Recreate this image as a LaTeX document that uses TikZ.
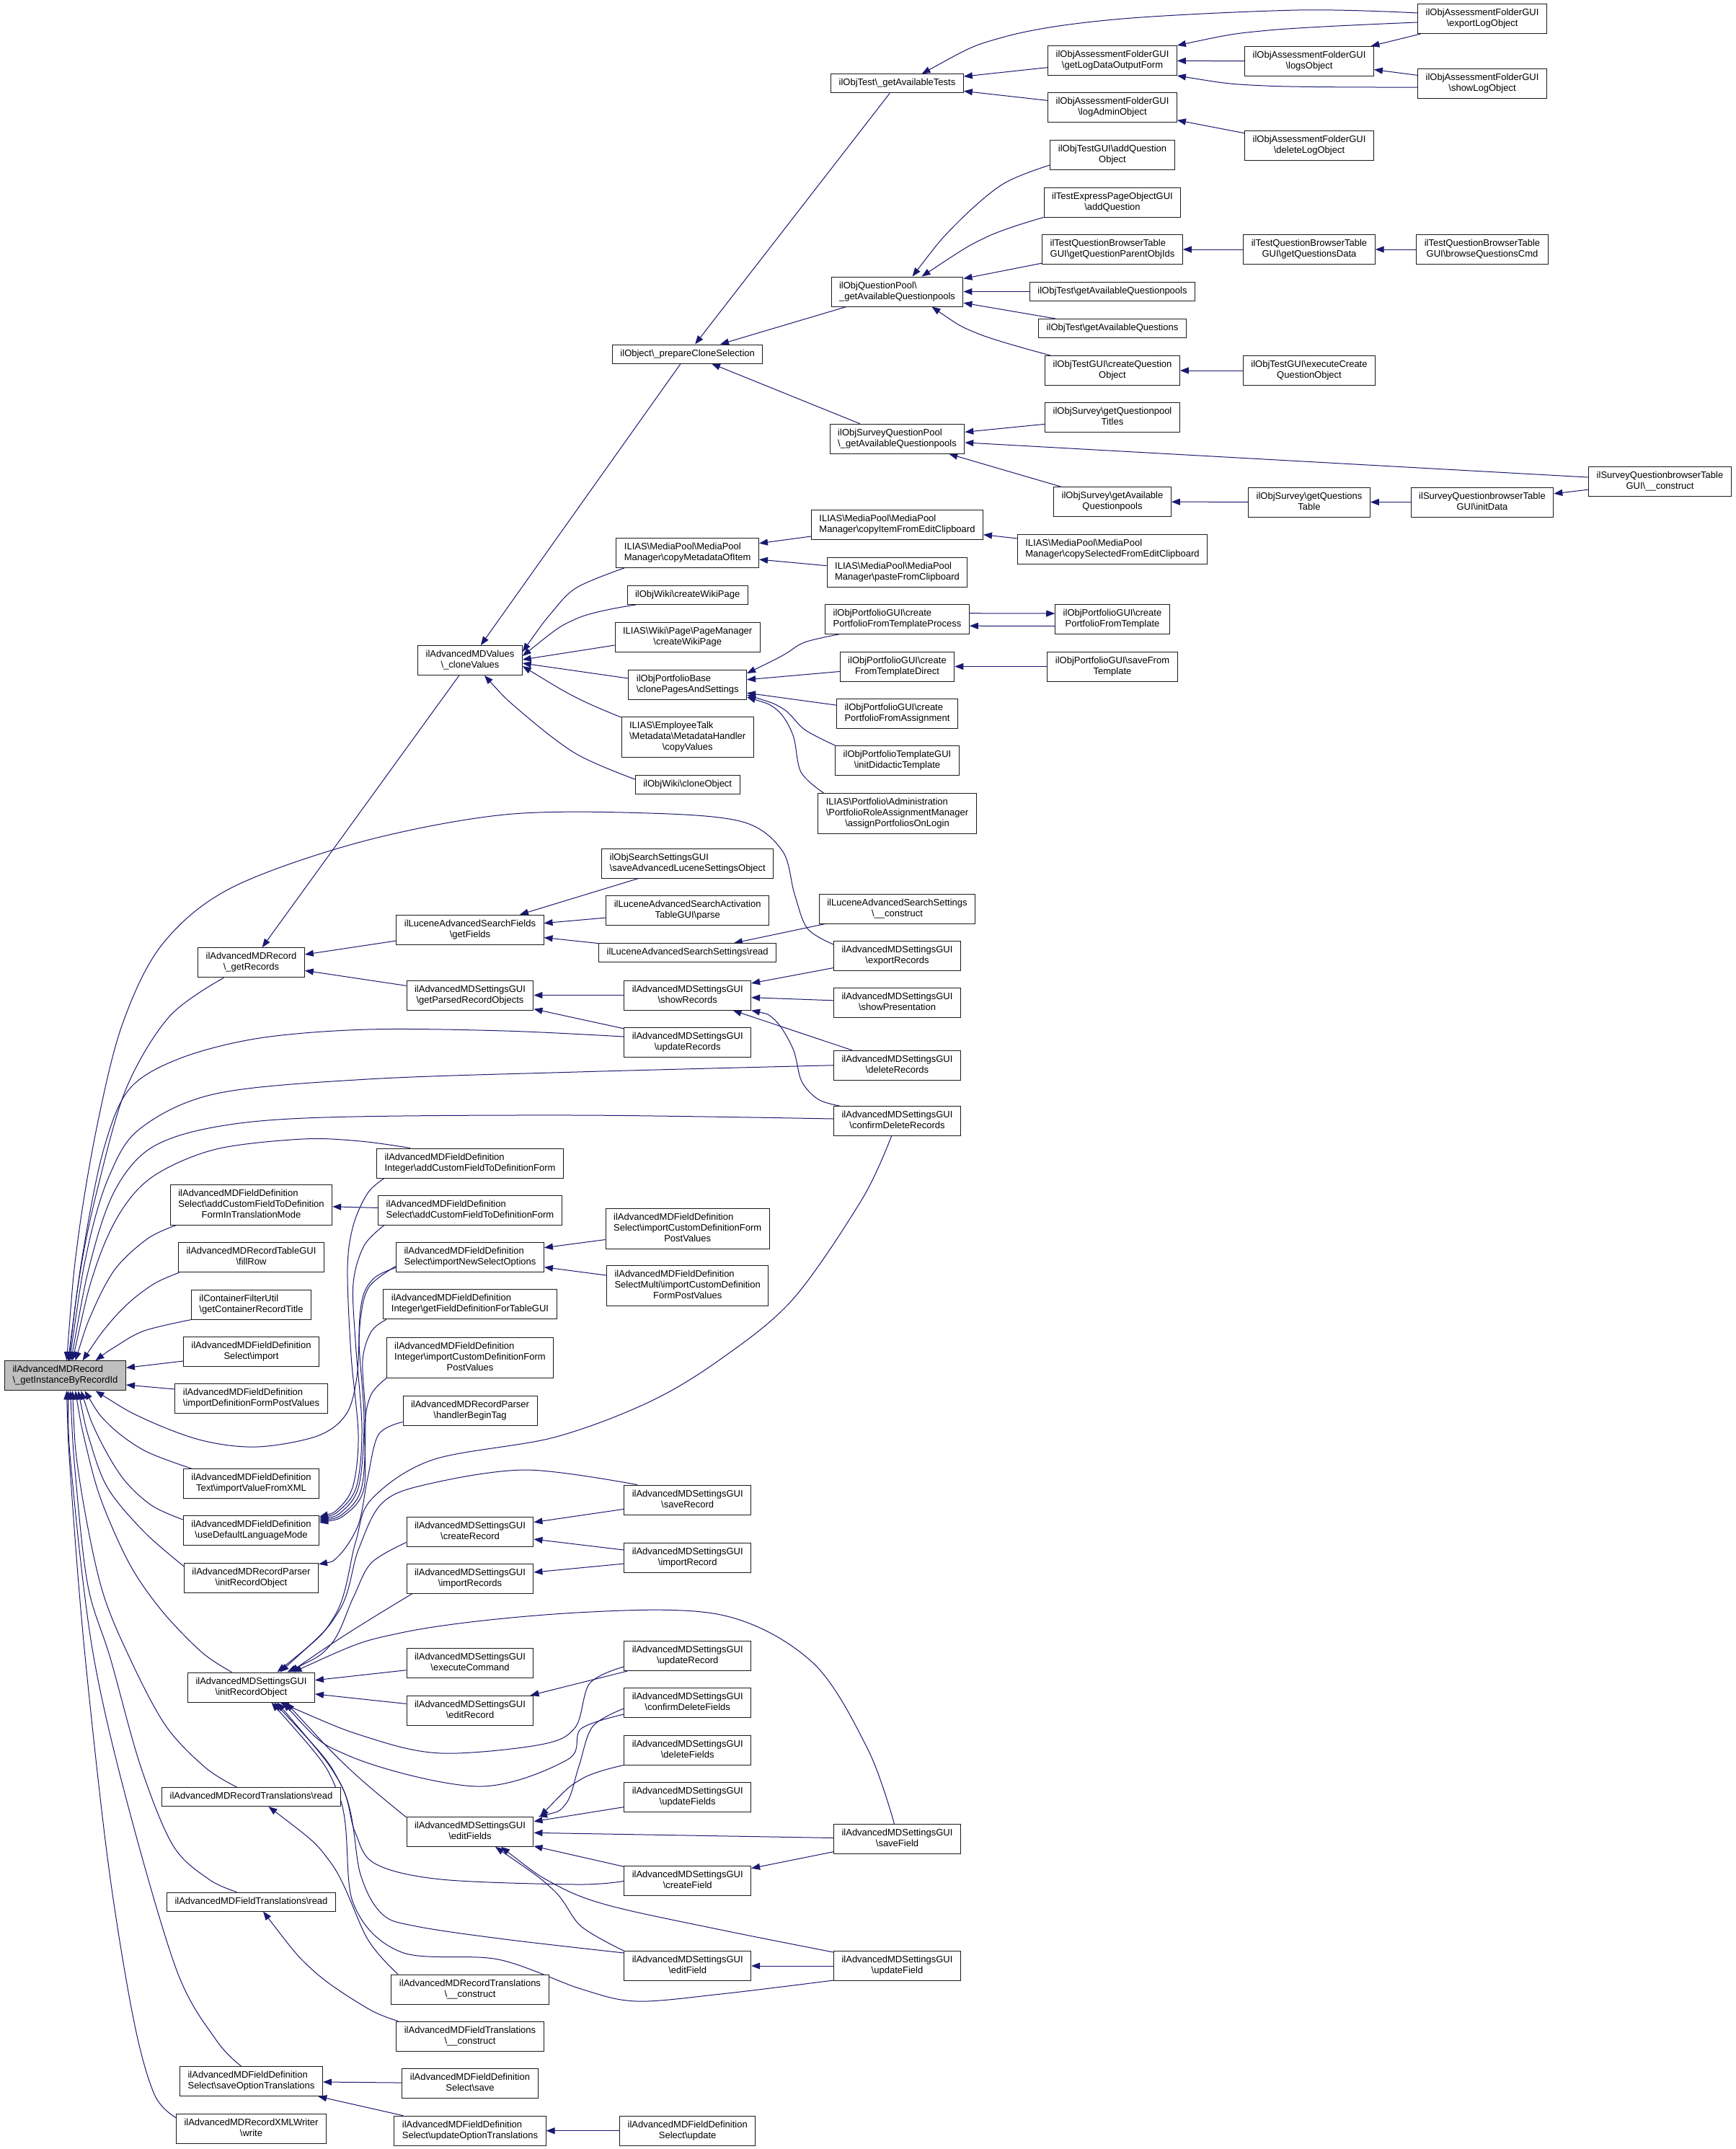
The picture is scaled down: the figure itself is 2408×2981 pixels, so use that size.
\documentclass[tikz,border=0pt]{standalone}
\usepackage{fontspec}
\setmainfont{Liberation Sans}
\usetikzlibrary{arrows.meta}
\pgfdeclarelayer{bg}
\pgfsetlayers{bg,main}
\definecolor{edgec}{HTML}{191970}
\definecolor{rootfill}{HTML}{BFBFBF}
\definecolor{boxline}{HTML}{1A1A1A}
\newcommand{\bsl}{\textbackslash}
\newcommand{\usc}{\_}
\newcommand{\lblA}[1]{\begin{tabular}{@{}c@{}}#1\end{tabular}}
\newcommand{\lblB}[2]{\begin{tabular}{@{}l@{}}#1\\\multicolumn{1}{@{}c@{}}{#2}\end{tabular}}
\newcommand{\lblC}[3]{\begin{tabular}{@{}l@{}}#1\\#2\\\multicolumn{1}{@{}c@{}}{#3}\end{tabular}}
\begin{document}
\begin{tikzpicture}[x=1pt,y=-1pt,
  box/.style={draw=boxline, line width=1pt, fill=white, inner xsep=11pt, inner ysep=5.5pt, font=\fontsize{13}{15}\selectfont, anchor=center},
  rootbox/.style={box, fill=rootfill},
  edge/.style={draw=edgec, line width=1pt, line join=round, {Triangle[length=12pt,width=9pt]}-},
  sm/.style={smooth, tension=0.55}]
\useasboundingbox (0,0) rectangle (2408,2981);
% ---------- nodes ----------
\node[rootbox] (root) at (90.5,1908.3) {\lblB{ilAdvancedMDRecord}{\bsl\usc getInstanceByRecordId}};
% column 1
\node[box] (gRec) at (348.5,1335.2) {\lblB{ilAdvancedMDRecord}{\bsl\usc getRecords}};
\node[box] (trans) at (348.5,1671) {\lblC{ilAdvancedMDFieldDefinition}{Select\bsl addCustomFieldToDefinition}{FormInTranslationMode}};
\node[box] (fillRow) at (348.5,1744.3) {\lblB{ilAdvancedMDRecordTableGUI}{\bsl fillRow}};
\node[box] (contTitle) at (348.5,1809.5) {\lblB{ilContainerFilterUtil}{\bsl getContainerRecordTitle}};
\node[box] (selImport) at (348.5,1875) {\lblB{ilAdvancedMDFieldDefinition}{Select\bsl import}};
\node[box] (impDef) at (348.5,1940.4) {\lblB{ilAdvancedMDFieldDefinition}{\bsl importDefinitionFormPostValues}};
\node[box] (impXML) at (348.5,2058) {\lblB{ilAdvancedMDFieldDefinition}{Text\bsl importValueFromXML}};
\node[box] (useDef) at (348.5,2123) {\lblB{ilAdvancedMDFieldDefinition}{\bsl useDefaultLanguageMode}};
\node[box] (rpInit) at (348.5,2188.7) {\lblB{ilAdvancedMDRecordParser}{\bsl initRecordObject}};
\node[box] (sInit) at (348.5,2340.5) {\lblB{ilAdvancedMDSettingsGUI}{\bsl initRecordObject}};
\node[box] (rtRead) at (348.5,2492.5) {\lblA{ilAdvancedMDRecordTranslations\bsl read}};
\node[box] (ftRead) at (348.5,2638) {\lblA{ilAdvancedMDFieldTranslations\bsl read}};
\node[box] (saveOpt) at (348.5,2887) {\lblB{ilAdvancedMDFieldDefinition}{Select\bsl saveOptionTranslations}};
\node[box] (xmlWrite) at (348.5,2952.5) {\lblB{ilAdvancedMDRecordXMLWriter}{\bsl write}};
% column 2
\node[box] (cloneVal) at (652,916) {\lblB{ilAdvancedMDValues}{\bsl\usc cloneValues}};
\node[box] (getFields) at (652,1289.7) {\lblB{ilLuceneAdvancedSearchFields}{\bsl getFields}};
\node[box] (parsedRec) at (652,1380.5) {\lblB{ilAdvancedMDSettingsGUI}{\bsl getParsedRecordObjects}};
\node[box] (intAdd) at (652,1613.5) {\lblB{ilAdvancedMDFieldDefinition}{Integer\bsl addCustomFieldToDefinitionForm}};
\node[box] (selAdd) at (652,1678.6) {\lblB{ilAdvancedMDFieldDefinition}{Select\bsl addCustomFieldToDefinitionForm}};
\node[box] (newSel) at (652,1744.3) {\lblB{ilAdvancedMDFieldDefinition}{Select\bsl importNewSelectOptions}};
\node[box] (tableGUI) at (652,1809.3) {\lblB{ilAdvancedMDFieldDefinition}{Integer\bsl getFieldDefinitionForTableGUI}};
\node[box] (intImp) at (652,1883.2) {\lblC{ilAdvancedMDFieldDefinition}{Integer\bsl importCustomDefinitionForm}{PostValues}};
\node[box] (beginTag) at (652,1956.5) {\lblB{ilAdvancedMDRecordParser}{\bsl handlerBeginTag}};
\node[box] (createRec) at (652,2124.5) {\lblB{ilAdvancedMDSettingsGUI}{\bsl createRecord}};
\node[box] (impRecs) at (652,2189.5) {\lblB{ilAdvancedMDSettingsGUI}{\bsl importRecords}};
\node[box] (execCmd) at (652,2307) {\lblB{ilAdvancedMDSettingsGUI}{\bsl executeCommand}};
\node[box] (editRec) at (652,2372.8) {\lblB{ilAdvancedMDSettingsGUI}{\bsl editRecord}};
\node[box] (editFlds) at (652,2540.8) {\lblB{ilAdvancedMDSettingsGUI}{\bsl editFields}};
\node[box] (rtCons) at (652,2759.5) {\lblB{ilAdvancedMDRecordTranslations}{\bsl\usc\usc construct}};
\node[box] (ftCons) at (652,2824.5) {\lblB{ilAdvancedMDFieldTranslations}{\bsl\usc\usc construct}};
\node[box] (selSave) at (652,2890) {\lblB{ilAdvancedMDFieldDefinition}{Select\bsl save}};
\node[box] (updOpt) at (652,2955.7) {\lblB{ilAdvancedMDFieldDefinition}{Select\bsl updateOptionTranslations}};
% column 3
\node[box] (prepClone) at (953.7,491) {\lblA{ilObject\bsl\usc prepareCloneSelection}};
\node[box] (copyMeta) at (953.7,767) {\lblB{ILIAS\bsl MediaPool\bsl MediaPool}{Manager\bsl copyMetadataOfItem}};
\node[box] (wikiCreate) at (953.7,825.5) {\lblA{ilObjWiki\bsl createWikiPage}};
\node[box] (pageCreate) at (953.7,884) {\lblB{ILIAS\bsl Wiki\bsl Page\bsl PageManager}{\bsl createWikiPage}};
\node[box] (clonePages) at (953.7,950) {\lblB{ilObjPortfolioBase}{\bsl clonePagesAndSettings}};
\node[box] (copyVals) at (953.7,1022.5) {\lblC{ILIAS\bsl EmployeeTalk}{\bsl Metadata\bsl MetadataHandler}{\bsl copyValues}};
\node[box] (wikiClone) at (953.7,1088) {\lblA{ilObjWiki\bsl cloneObject}};
\node[box] (saveLucene) at (953.7,1197.8) {\lblB{ilObjSearchSettingsGUI}{\bsl saveAdvancedLuceneSettingsObject}};
\node[box] (actParse) at (953.7,1263) {\lblB{ilLuceneAdvancedSearchActivation}{TableGUI\bsl parse}};
\node[box] (lucRead) at (953.7,1321.7) {\lblA{ilLuceneAdvancedSearchSettings\bsl read}};
\node[box] (showRecs) at (953.7,1380.5) {\lblB{ilAdvancedMDSettingsGUI}{\bsl showRecords}};
\node[box] (updRecs) at (953.7,1446) {\lblB{ilAdvancedMDSettingsGUI}{\bsl updateRecords}};
\node[box] (selImpCust) at (953.7,1704.5) {\lblC{ilAdvancedMDFieldDefinition}{Select\bsl importCustomDefinitionForm}{PostValues}};
\node[box] (multiImpCust) at (953.7,1783.8) {\lblC{ilAdvancedMDFieldDefinition}{SelectMulti\bsl importCustomDefinition}{FormPostValues}};
\node[box] (saveRec) at (953.7,2080.5) {\lblB{ilAdvancedMDSettingsGUI}{\bsl saveRecord}};
\node[box] (impRec) at (953.7,2160.6) {\lblB{ilAdvancedMDSettingsGUI}{\bsl importRecord}};
\node[box] (updRec) at (953.7,2297) {\lblB{ilAdvancedMDSettingsGUI}{\bsl updateRecord}};
\node[box] (confFlds) at (953.7,2362) {\lblB{ilAdvancedMDSettingsGUI}{\bsl confirmDeleteFields}};
\node[box] (delFlds) at (953.7,2427.5) {\lblB{ilAdvancedMDSettingsGUI}{\bsl deleteFields}};
\node[box] (updFlds) at (953.7,2492.5) {\lblB{ilAdvancedMDSettingsGUI}{\bsl updateFields}};
\node[box] (createFld) at (953.7,2609.3) {\lblB{ilAdvancedMDSettingsGUI}{\bsl createField}};
\node[box] (editFld) at (953.7,2727) {\lblB{ilAdvancedMDSettingsGUI}{\bsl editField}};
\node[box] (selUpdate) at (953.7,2955.7) {\lblB{ilAdvancedMDFieldDefinition}{Select\bsl update}};
% column 4
\node[box] (availTests) at (1244.5,116) {\lblA{ilObjTest\bsl\usc getAvailableTests}};
\node[box] (availQP) at (1244.5,404.5) {\lblB{ilObjQuestionPool\bsl}{\usc getAvailableQuestionpools}};
\node[box] (availSQP) at (1244.5,608.7) {\lblB{ilObjSurveyQuestionPool}{\bsl\usc getAvailableQuestionpools}};
\node[box] (copyItem) at (1244.5,728) {\lblB{ILIAS\bsl MediaPool\bsl MediaPool}{Manager\bsl copyItemFromEditClipboard}};
\node[box] (pasteClip) at (1244.5,793.7) {\lblB{ILIAS\bsl MediaPool\bsl MediaPool}{Manager\bsl pasteFromClipboard}};
\node[box] (ptProcess) at (1244.5,858.7) {\lblB{ilObjPortfolioGUI\bsl create}{PortfolioFromTemplateProcess}};
\node[box] (ftDirect) at (1244.5,924.5) {\lblB{ilObjPortfolioGUI\bsl create}{FromTemplateDirect}};
\node[box] (ptAssign) at (1244.5,989.7) {\lblB{ilObjPortfolioGUI\bsl create}{PortfolioFromAssignment}};
\node[box] (didactic) at (1244.5,1055) {\lblB{ilObjPortfolioTemplateGUI}{\bsl initDidacticTemplate}};
\node[box] (assignLogin) at (1244.5,1128.5) {\lblC{ILIAS\bsl Portfolio\bsl Administration}{\bsl PortfolioRoleAssignmentManager}{\bsl assignPortfoliosOnLogin}};
\node[box] (lucCons) at (1244.5,1260.5) {\lblB{ilLuceneAdvancedSearchSettings}{\bsl\usc\usc construct}};
\node[box] (expRecs) at (1244.5,1326) {\lblB{ilAdvancedMDSettingsGUI}{\bsl exportRecords}};
\node[box] (showPres) at (1244.5,1391) {\lblB{ilAdvancedMDSettingsGUI}{\bsl showPresentation}};
\node[box] (delRecs) at (1244.5,1477.7) {\lblB{ilAdvancedMDSettingsGUI}{\bsl deleteRecords}};
\node[box] (confRecs) at (1244.5,1555) {\lblB{ilAdvancedMDSettingsGUI}{\bsl confirmDeleteRecords}};
\node[box] (saveFld) at (1244.5,2551) {\lblB{ilAdvancedMDSettingsGUI}{\bsl saveField}};
\node[box] (updFld) at (1244.5,2727) {\lblB{ilAdvancedMDSettingsGUI}{\bsl updateField}};
% column 5
\node[box] (logData) at (1543,84) {\lblB{ilObjAssessmentFolderGUI}{\bsl getLogDataOutputForm}};
\node[box] (logAdmin) at (1543,149.5) {\lblB{ilObjAssessmentFolderGUI}{\bsl logAdminObject}};
\node[box] (addQObj) at (1543,215) {\lblB{ilObjTestGUI\bsl addQuestion}{Object}};
\node[box] (addQ) at (1543,280.5) {\lblB{ilTestExpressPageObjectGUI}{\bsl addQuestion}};
\node[box] (parentIds) at (1543,346) {\lblB{ilTestQuestionBrowserTable}{GUI\bsl getQuestionParentObjIds}};
\node[box] (availQPools) at (1543,404.5) {\lblA{ilObjTest\bsl getAvailableQuestionpools}};
\node[box] (availQs) at (1543,455.5) {\lblA{ilObjTest\bsl getAvailableQuestions}};
\node[box] (createQObj) at (1543,514) {\lblB{ilObjTestGUI\bsl createQuestion}{Object}};
\node[box] (qpTitles) at (1543,579) {\lblB{ilObjSurvey\bsl getQuestionpool}{Titles}};
\node[box] (surveyAvailQP) at (1543,696) {\lblB{ilObjSurvey\bsl getAvailable}{Questionpools}};
\node[box] (copySel) at (1543,762) {\lblB{ILIAS\bsl MediaPool\bsl MediaPool}{Manager\bsl copySelectedFromEditClipboard}};
\node[box] (ptTemplate) at (1543,859) {\lblB{ilObjPortfolioGUI\bsl create}{PortfolioFromTemplate}};
\node[box] (saveFromT) at (1543,924.5) {\lblB{ilObjPortfolioGUI\bsl saveFrom}{Template}};
% column 6
\node[box] (logsObj) at (1816,85) {\lblB{ilObjAssessmentFolderGUI}{\bsl logsObject}};
\node[box] (delLog) at (1816,202) {\lblB{ilObjAssessmentFolderGUI}{\bsl deleteLogObject}};
\node[box] (qData) at (1816,346) {\lblB{ilTestQuestionBrowserTable}{GUI\bsl getQuestionsData}};
\node[box] (execCreate) at (1816,514) {\lblB{ilObjTestGUI\bsl executeCreate}{QuestionObject}};
\node[box] (qTable) at (1816,696.5) {\lblB{ilObjSurvey\bsl getQuestions}{Table}};
% column 7
\node[box] (expLog) at (2056,26) {\lblB{ilObjAssessmentFolderGUI}{\bsl exportLogObject}};
\node[box] (showLog) at (2056,116) {\lblB{ilObjAssessmentFolderGUI}{\bsl showLogObject}};
\node[box] (browseCmd) at (2056,346) {\lblB{ilTestQuestionBrowserTable}{GUI\bsl browseQuestionsCmd}};
\node[box] (initData) at (2056,696.5) {\lblB{ilSurveyQuestionbrowserTable}{GUI\bsl initData}};
% column 8
\node[box] (sqbCons) at (2302.5,667.5) {\lblB{ilSurveyQuestionbrowserTable}{GUI\bsl\usc\usc construct}};
% ---------- edges ----------
\begin{pgfonlayer}{bg}
\fill[white] (0,0) rectangle (2408,2981);
% top right
\draw[edge] plot[sm] coordinates {([xshift=34pt]availTests.north) (1390,52) (1546,27) (1800,14) ([yshift=8pt]expLog.west)};
\draw[edge] (availTests) -- (logData);
\draw[edge] (availTests) -- (logAdmin);
\draw[edge] plot[sm] coordinates {(logData.north east) (1760,42) ([yshift=-5pt]expLog.west)};
\draw[edge] (logData) -- (logsObj);
\draw[edge] plot[sm] coordinates {(logData.south east) (1755,119) ([yshift=-5pt]showLog.west)};
\draw[edge] (logsObj) -- (expLog);
\draw[edge] (logsObj) -- (showLog);
\draw[edge] (logAdmin) -- (delLog);
\draw[edge] plot[sm] coordinates {([xshift=21pt]availQP.north) (1323,314) (1390,256) ([yshift=-14pt]addQObj.west)};
\draw[edge] plot[sm] coordinates {([xshift=34pt]availQP.north) (1368,329) (addQ.south west)};
\draw[edge] (availQP) -- (parentIds);
\draw[edge] (availQP) -- (availQPools);
\draw[edge] (availQP) -- (availQs);
\draw[edge] plot[sm] coordinates {([xshift=48pt]availQP.south) (1357,463) ([xshift=-86pt]createQObj.north)};
\draw[edge] (parentIds) -- (qData);
\draw[edge] (qData) -- (browseCmd);
\draw[edge] (createQObj) -- (execCreate);
\draw[edge] (availSQP) -- (qpTitles);
\draw[edge] (availSQP) -- (sqbCons);
\draw[edge] (availSQP) -- (surveyAvailQP);
\draw[edge] (surveyAvailQP) -- (qTable);
\draw[edge] (qTable) -- (initData);
\draw[edge] (initData) -- (sqbCons);
\draw[edge] (prepClone) -- (availTests);
\draw[edge] (prepClone) -- (availQP);
\draw[edge] (prepClone) -- (availSQP);
\draw[edge] (cloneVal) -- (prepClone);
\draw[edge] plot[sm] coordinates {([yshift=12pt]cloneVal.east) (765,850) (800,815) ([xshift=-88pt]copyMeta.south)};
\draw[edge] plot[sm] coordinates {([yshift=6pt]cloneVal.east) (800,858) ([xshift=-72pt]wikiCreate.south)};
\draw[edge] ([yshift=1pt]cloneVal.east) -- ([yshift=-11pt]pageCreate.west);
\draw[edge] ([yshift=-4pt]cloneVal.east) -- ([yshift=9pt]clonePages.west);
\draw[edge] plot[sm] coordinates {([yshift=-8pt]cloneVal.east) (800,968) ([yshift=-1pt]copyVals.north west)};
\draw[edge] plot[sm] coordinates {([xshift=20pt]cloneVal.south) (720,985) (798,1045) ([yshift=7pt]wikiClone.west)};
\draw[edge] (copyMeta) -- (copyItem);
\draw[edge] (copyMeta) -- (pasteClip);
\draw[edge] (copyItem) -- (copySel);
\draw[edge] plot[sm] coordinates {([yshift=16pt]clonePages.east) (1086,909) (1116,891) ([xshift=-80pt]ptProcess.south)};
\draw[edge] (clonePages) -- (ftDirect);
\draw[edge] (clonePages) -- (ptAssign);
\draw[edge] plot[sm] coordinates {([yshift=-14pt]clonePages.east) (1086,983) (1116,1012) (didactic.north west)};
\draw[edge] plot[sm] coordinates {([yshift=-17pt]clonePages.east) (1078,985) (1100,1020) (1111,1071) ([xshift=-102pt]assignLogin.north)};
\draw[edge] ([yshift=8pt]ptTemplate.west) -- ([yshift=8pt]ptProcess.east);
\draw[edge] ([yshift=-9.5pt]ptProcess.east) -- ([yshift=-9.5pt]ptTemplate.west);
\draw[edge] (ftDirect) -- (saveFromT);
% middle
\draw[edge] (gRec) -- (cloneVal);
\draw[edge] (gRec) -- (getFields);
\draw[edge] (gRec) -- (parsedRec);
\draw[edge] (getFields) -- (saveLucene);
\draw[edge] (getFields) -- (actParse);
\draw[edge] (getFields) -- (lucRead);
\draw[edge] (lucRead) -- (lucCons);
\draw[edge] (parsedRec) -- (showRecs);
\draw[edge] (parsedRec) -- (updRecs);
\draw[edge] (showRecs) -- (expRecs);
\draw[edge] (showRecs) -- (showPres);
\draw[edge] (showRecs) -- (delRecs);
\draw[edge] plot[sm] coordinates {(showRecs.south east) (1075,1415) (1100,1455) (1112,1500) (1135,1525) ([xshift=-80pt]confRecs.north)};
\draw[edge] (trans) -- (selAdd);
\draw[edge] (newSel) -- (selImpCust);
\draw[edge] (newSel) -- (multiImpCust);
% root edges
\draw[edge] plot[sm] coordinates {([xshift=2pt]root.north) (108,1720) (135,1560) (170,1420) (225,1310) (320,1232) (500,1168) (700,1130) (900,1128) (1030,1140) (1085,1180) (1102,1240) (1120,1288) ([yshift=-5pt]expRecs.north west)};
\draw[edge] plot[sm] coordinates {([xshift=5pt]root.north) (112,1760) (135,1650) (175,1510) (235,1410) ([xshift=-38pt]gRec.south)};
\draw[edge] plot[sm] coordinates {([xshift=4pt]root.north) (118,1720) (145,1590) (180,1510) (250,1468) (360,1440) (510,1428) (700,1430) ([yshift=8pt]updRecs.west)};
\draw[edge] plot[sm] coordinates {([xshift=6pt]root.north) (122,1730) (152,1630) (195,1565) (300,1517) (510,1497) (800,1487) (delRecs.west)};
\draw[edge] plot[sm] coordinates {([xshift=8pt]root.north) (127,1745) (160,1650) (210,1592) (300,1563) (450,1550) (800,1547) ([yshift=3pt]confRecs.west)};
\draw[edge] plot[sm] coordinates {([xshift=10pt]root.north) (132,1760) (168,1680) (215,1630) (300,1594) (420,1580) (500,1583) ([xshift=-83pt]intAdd.north)};
\draw[edge] plot[sm] coordinates {([xshift=14pt]root.north) (128,1820) (160,1760) (205,1718) ([xshift=-104pt]trans.south)};
\draw[edge] plot[sm] coordinates {([xshift=24pt]root.north) (148,1840) (180,1806) (215,1780) ([xshift=-100pt]fillRow.south)};
\draw[edge] plot[sm] coordinates {([xshift=42pt]root.north) (160,1868) (200,1846) ([xshift=-83pt]contTitle.south)};
\draw[edge] ([yshift=11pt]root.east) -- ([yshift=-13pt]selImport.west);
\draw[edge] ([yshift=-12.7pt]root.east) -- ([yshift=13.4pt]impDef.west);
\draw[edge] plot[sm] coordinates {([xshift=42pt]root.south) (200,1968) (280,1998) (357,2007) (440,1992) (480,1962) (495,1910) (500,1830) (512,1785) ([yshift=-12pt]newSel.west)};
\draw[edge] plot[sm] coordinates {([xshift=27pt]root.south) (150,1975) (200,2012) ([xshift=-83pt]impXML.north)};
\draw[edge] plot[sm] coordinates {([xshift=22pt]root.south) (135,1990) (170,2050) (210,2088) ([yshift=15pt]useDef.west)};
\draw[edge] plot[sm] coordinates {([xshift=18pt]root.south) (125,2000) (150,2065) (200,2125) ([yshift=16pt]rpInit.west)};
\draw[edge] plot[sm] coordinates {([xshift=14pt]root.south) (118,2000) (140,2080) (180,2170) (225,2235) (280,2292) ([xshift=-27pt]sInit.north)};
\draw[edge] plot[sm] coordinates {([xshift=10pt]root.south) (110,2050) (140,2200) (180,2300) (230,2394) (285,2452) ([xshift=-20pt]rtRead.north)};
\draw[edge] plot[sm] coordinates {([xshift=7pt]root.south) (105,2050) (122,2200) (153,2300) (195,2450) (240,2560) (290,2607) ([xshift=-20pt]ftRead.north)};
\draw[edge] plot[sm] coordinates {([xshift=4pt]root.south) (100,2050) (128,2287) (175,2495) (245,2733) (300,2830) ([xshift=-14pt]saveOpt.north)};
\draw[edge] plot[sm] coordinates {([xshift=2pt]root.south) (98,2050) (117,2287) (150,2584) (185,2800) (214,2905) ([yshift=15pt]xmlWrite.west)};
% useDefaultLanguageMode and record parser
\draw[edge] plot[sm] coordinates {([yshift=-2pt]useDef.north east) (470,2092) (490,2060) (497,1990) (487,1880) (482,1760) (490,1700) (510,1655) ([xshift=-119pt]intAdd.south)};
\draw[edge] plot[sm] coordinates {([yshift=-4pt]useDef.north east) (472,2094) (495,2060) (502,1980) (493,1860) (490,1780) (505,1728) ([xshift=-119pt]selAdd.south)};
\draw[edge] plot[sm] coordinates {([yshift=-6pt]useDef.north east) (475,2096) (498,2060) (505,1970) (498,1860) (503,1800) (520,1772) ([yshift=-14pt]newSel.west)};
\draw[edge] plot[sm] coordinates {([yshift=-8pt]useDef.north east) (478,2098) (502,2062) (507,1970) (503,1888) (515,1847) ([xshift=-116pt]tableGUI.south)};
\draw[edge] plot[sm] coordinates {([yshift=-10pt]useDef.north east) (480,2100) (505,2064) (506,1975) (515,1934) ([xshift=-116pt]intImp.south)};
\draw[edge] plot[sm] coordinates {([yshift=-2pt]rpInit.north east) (470,2158) (497,2115) (510,2050) (525,1990) ([yshift=-16pt]beginTag.west)};
% initRecordObject
\draw[edge] plot[sm] coordinates {([xshift=50pt]sInit.north) (459,2281) (490,2216) (515,2168) ([yshift=-15pt]createRec.west)};
\draw[edge] plot[sm] coordinates {([xshift=54pt]sInit.north) (485,2264) ([xshift=-80pt]impRecs.south)};
\draw[edge] plot[sm] coordinates {([xshift=58pt]sInit.north) (561,2264) (800,2237) (1000,2240) (1127,2306) (1204,2427) ([xshift=-4pt]saveFld.north)};
\draw[edge] plot[sm] coordinates {([xshift=40pt]sInit.north) (470,2235) (497,2150) (530,2085) (592,2059) (730,2039) ([xshift=-70pt]saveRec.north)};
\draw[edge] plot[sm] coordinates {([xshift=36pt]sInit.north) (465,2240) (493,2140) (515,2080) (600,2025) (768,1994) (900,1945) (1000,1885) (1100,1802) (1196,1663) ([xshift=-8pt]confRecs.south)};
\draw[edge] (sInit) -- (execCmd);
\draw[edge] (sInit) -- (editRec);
\draw[edge] plot[sm] coordinates {([xshift=40pt]sInit.south) (510,2410) (612,2432) (750,2420) (798,2396) (818,2335) ([yshift=-15pt]updRec.west)};
\draw[edge] plot[sm] coordinates {([xshift=44pt]sInit.south) (485,2436) (663,2478) (787,2441) (806,2398) ([yshift=-16pt]confFlds.west)};
\draw[edge] plot[sm] coordinates {([xshift=48pt]sInit.south) (485,2454) ([yshift=-1pt]editFlds.north west)};
\draw[edge] plot[sm] coordinates {([xshift=36pt]sInit.south) (470,2470) (492,2540) (520,2585) (612,2607) (800,2614) (createFld.west)};
\draw[edge] plot[sm] coordinates {([xshift=32pt]sInit.south) (475,2480) (500,2600) (530,2655) (577,2672) (700,2690) ([yshift=18pt]editFld.west)};
\draw[edge] plot[sm] coordinates {([xshift=28pt]sInit.south) (470,2490) (490,2640) (557,2708) (691,2718) (806,2759) (883,2776) (1000,2766) ([yshift=1pt]updFld.south west)};
% lower middle
\draw[edge] (createRec) -- (saveRec);
\draw[edge] (createRec) -- (impRec);
\draw[edge] (impRecs) -- (impRec);
\draw[edge] (editRec) -- (updRec);
\draw[edge] plot[sm] coordinates {([xshift=95pt]editFlds.north) (785,2502) (803,2450) (822,2395) ([yshift=-8pt]confFlds.west)};
\draw[edge] plot[sm] coordinates {([xshift=97pt]editFlds.north) (806,2468) (delFlds.south west)};
\draw[edge] (editFlds) -- (updFlds);
\draw[edge] (editFlds) -- (saveFld);
\draw[edge] (editFlds) -- (createFld);
\draw[edge] plot[sm] coordinates {([xshift=35pt]editFlds.south) (768,2622) (806,2672) (editFld.north west)};
\draw[edge] plot[sm] coordinates {([xshift=43pt]editFlds.south) (768,2613) (844,2643) (1000,2677) ([yshift=-2pt]updFld.north west)};
\draw[edge] (createFld) -- (saveFld);
\draw[edge] (editFld) -- (updFld);
\draw[edge] plot[sm] coordinates {([xshift=24pt]rtRead.south) (459,2584) (510,2690) ([xshift=-100pt]rtCons.north)};
\draw[edge] plot[sm] coordinates {([xshift=16.5pt]ftRead.south) (434,2733) (510,2786) ([xshift=3pt]ftCons.north west)};
\draw[edge] (saveOpt) -- (selSave);
\draw[edge] (saveOpt) -- (updOpt);
\draw[edge] (updOpt) -- (selUpdate);
\end{pgfonlayer}
\end{tikzpicture}
\end{document}
